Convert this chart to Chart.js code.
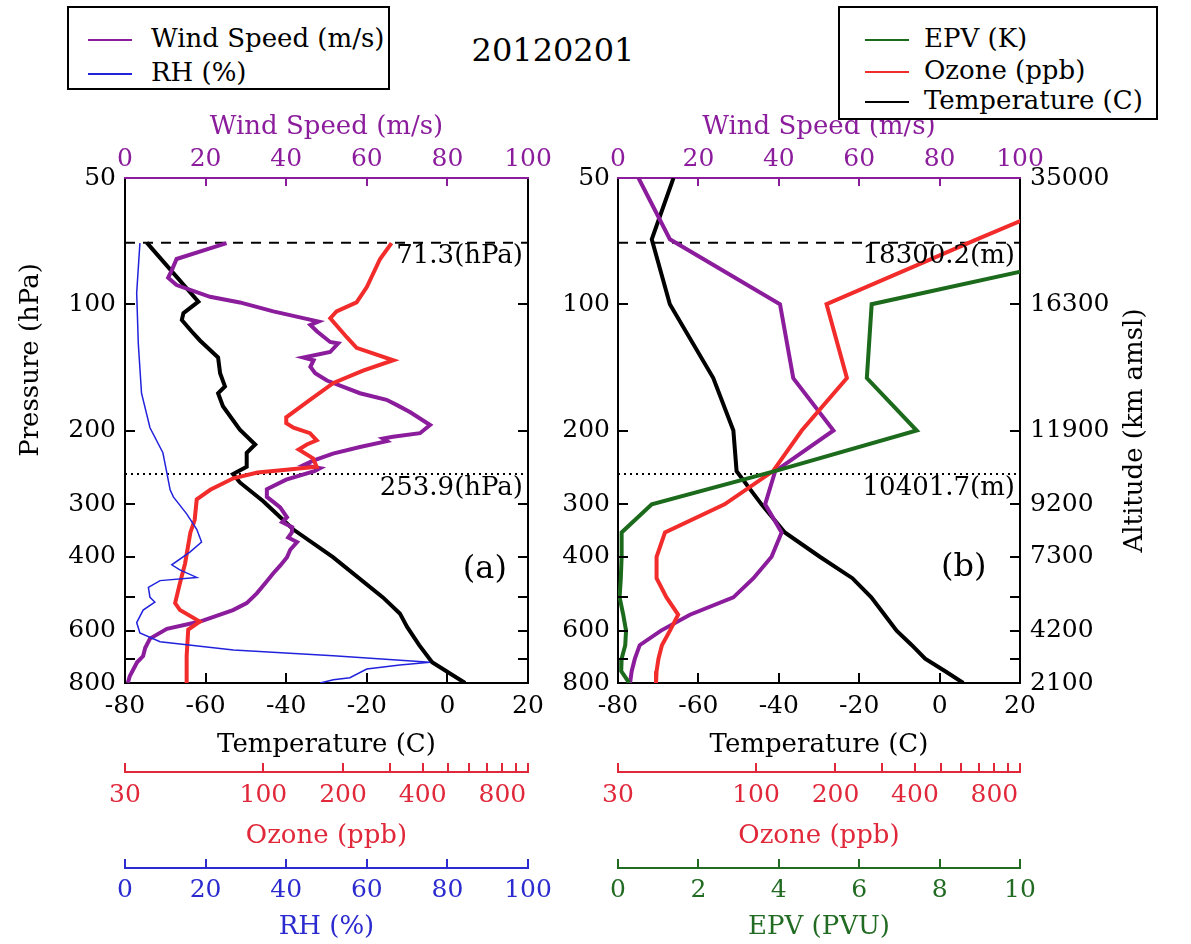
<!DOCTYPE html>
<html>
<head>
<meta charset="utf-8">
<title>20120201</title>
<script src="https://cdn.jsdelivr.net/npm/chart.js@4.4.1/dist/chart.umd.min.js"></script>
<style>
  body { margin: 0; background: #fff; font-family: "DejaVu Serif", serif; }
  #page { position: relative; width: 1191px; height: 944px; overflow: hidden; background: #fff; }
  canvas { position: absolute; }
  #ca { left: 0; top: 110px; }
  #cb { left: 540px; top: 110px; }
  #title { position: absolute; left: 453px; top: 30px; width: 200px; text-align: center; font-size: 32px; line-height: 40px; color: #000; }
  .legend { position: absolute; box-sizing: border-box; border: 2px solid #000; background: #fff; font-size: 26px; color: #000; }
  .legend .row { position: absolute; height: 30px; line-height: 30px; white-space: nowrap; }
  .legend .key { display: inline-block; width: 44px; height: 2px; vertical-align: middle; }
</style>
</head>
<body>
<div id="page">
  <canvas id="ca" width="560" height="834"></canvas>
  <canvas id="cb" width="651" height="834"></canvas>
  <div id="title">20120201</div>
  <div class="legend" style="left:67px; top:6px; width:323px; height:84px;">
    <div class="row" style="left:19px; top:15px;"><span class="key" style="background:#8b1d9c; margin-right:19px;"></span>Wind Speed (m/s)</div>
    <div class="row" style="left:19px; top:49px;"><span class="key" style="background:#2222dd; margin-right:19px;"></span>RH (%)</div>
  </div>
  <div class="legend" style="left:838px; top:6px; width:320px; height:114px;">
    <div class="row" style="left:25px; top:15px;"><span class="key" style="background:#1c6a1c; margin-right:15px;"></span>EPV (K)</div>
    <div class="row" style="left:25px; top:47px;"><span class="key" style="background:#f22b2b; margin-right:15px;"></span>Ozone (ppb)</div>
    <div class="row" style="left:25px; top:77px;"><span class="key" style="background:#000; margin-right:15px;"></span>Temperature (C)</div>
  </div>
</div>
<script>
const FONT = '"DejaVu Serif", serif';
const PURPLE = '#8b1d9c';
const RED = '#f22b2b';
const BLUE = '#2222dd';
const GREEN = '#1c6a1c';
const OZONE_TEXT = '#e0283a';
const RH_TEXT = '#2b2bd0';
const EPV_TEXT = '#226b22';

// axis ticks
const pressureTicks = [50, 100, 200, 300, 400, 500, 600, 700, 800];
const pressureLabels = ['50', '100', '200', '300', '400', '', '600', '', '800'];
const altitudeLabels = ['35000', '16300', '11900', '9200', '7300', '', '4200', '', '2100'];
const ozoneTicks = [30, 100, 200, 300, 400, 500, 600, 700, 800, 900, 1000];
const ozoneLabels = ['30', '100', '200', '', '400', '', '', '', '800', '', ''];

// tropopause levels (hPa) and their heights (m)
const tropoPressure = [71.3, 253.9];
const tropoHeight = [18300.2, 10401.7];

// (a) sonde profiles
const aTempP = [71.3, 98.6, 105, 109, 116, 122, 134, 146, 157, 163, 175, 199, 216, 226, 244, 254, 266, 295, 344, 401, 500, 546, 588, 650, 714, 800];
const aTemp = [-74.6, -61.8, -65.5, -65.9, -63.5, -61.4, -56.9, -56.4, -55.2, -56.9, -55.7, -51.5, -47.7, -49.8, -49.8, -53.2, -51.5, -45.7, -38.3, -28.4, -16.0, -11.8, -10.0, -7.0, -3.8, 4.4];

const aWindP = [71.5, 74, 78, 83, 86.5, 90, 96, 99, 104, 107.5, 110, 112, 116, 123, 124, 130, 134, 136, 141, 146, 152, 163, 169, 174, 181, 194, 203, 207, 209, 212, 219, 227, 236, 242, 246, 250, 262, 276, 288, 296, 305, 322, 331, 340, 350, 360, 369, 385, 401, 420, 438, 460, 489, 516, 536, 571, 594, 627, 660, 690, 714, 770, 800];
const aWind = [25.2, 20.3, 12.8, 11.6, 10.7, 12.8, 21.1, 28.5, 36.8, 43.4, 48.0, 46.0, 47.6, 50.9, 52.9, 50.9, 44.3, 46.8, 46.0, 47.2, 50.1, 58.3, 64.9, 67.5, 70.8, 75.7, 73.2, 66.5, 64.0, 65.0, 58.3, 51.6, 46.7, 44.3, 48.4, 47.0, 40.0, 35.2, 35.2, 36.8, 38.5, 40.2, 39.0, 41.5, 41.4, 40.5, 42.7, 41.0, 40.2, 38.5, 36.8, 35.0, 32.7, 30.2, 26.8, 18.6, 10.4, 6.2, 5.0, 4.5, 3.0, 1.2, 0.7];

const aOzoneP = [71.5, 78, 91, 99, 104, 108, 120, 127, 136, 144, 154, 169, 186, 192, 197, 203, 211, 216, 222, 233, 244, 248, 252, 260, 277, 292, 327, 350, 415, 462, 516, 536, 571, 597, 689, 800];
const aOzone = [305, 276, 246, 225, 189, 179, 207, 225, 310, 238, 184, 150, 122, 122, 130, 150, 159, 146, 136, 154, 159, 122, 95, 77, 63, 56, 55, 53, 50.6, 48.4, 46.4, 48.4, 57.5, 52, 51.3, 51.3];

const aRhP = [71.5, 94, 124, 163, 197, 226, 250, 277, 288, 316, 344, 369, 390, 418, 430, 448, 456, 473, 500, 513, 536, 574, 608, 638, 667, 689, 714, 725, 741, 777, 786, 800];
const aRh = [3.7, 2.9, 3.3, 4.1, 6.2, 9.4, 10.3, 11.2, 12.0, 15.3, 17.8, 19.0, 16.1, 11.6, 13.6, 17.8, 8.7, 5.8, 6.2, 7.4, 4.5, 2.9, 3.7, 8.7, 26.9, 51.7, 75.7, 68.2, 60.0, 55.8, 51.7, 48.4];

// (b) reanalysis profiles on pressure levels
const bLevels = [50, 70, 100, 150, 200, 250, 300, 350, 400, 450, 500, 550, 600, 650, 700, 750, 800];
const bTemp = [-66.2, -71.6, -67.1, -56.3, -51.3, -50.5, -44.3, -38.5, -29.8, -21.7, -17.0, -13.7, -10.7, -6.9, -3.6, 1.4, 5.9];
const bWind = [5.1, 12.9, 40.3, 43.6, 53.6, 39.1, 36.6, 40.7, 38.2, 33.7, 28.7, 17.9, 10.7, 5.4, 4.2, 3.4, 3.0];
const bOzone = [2450, 686, 185, 221, 149, 116, 76, 45.2, 42, 42, 45.8, 50.7, 47.2, 44, 42.7, 42, 41.8];
const bEpv = [20, 13.7, 6.31, 6.19, 7.43, 3.9, 0.84, 0.09, 0.09, 0.07, 0.04, 0.13, 0.2, 0.18, 0.09, 0.08, 0.28];

const tickFont = { family: FONT, size: 25 };
const titleFont = { family: FONT, size: 26 };

const pts = (vals, ps) => vals.map((v, i) => ({ x: v, y: ps[i] }));

function profile(vals, ps, axis, color, width) {
  return { data: pts(vals, ps), xAxisID: axis, yAxisID: 'y', borderColor: color, borderWidth: width, pointRadius: 0, fill: false };
}

function levelLine(p, dash) {
  return { data: [{ x: -80, y: p }, { x: 20, y: p }], xAxisID: 'x', yAxisID: 'y', borderColor: '#000', borderWidth: 2, borderDash: dash, pointRadius: 0 };
}

// tick marks drawn inside the frame / above the extra axis lines
function innerTicks(spec) {
  return {
    id: 'innerTicks',
    afterDraw(chart) {
      const ctx = chart.ctx;
      ctx.save();
      Object.keys(spec).forEach(id => {
        const s = chart.scales[id], o = spec[id];
        ctx.strokeStyle = o.color;
        ctx.lineWidth = 2;
        s.ticks.forEach((t, i) => {
          if (!o.ends && (i === 0 || i === s.ticks.length - 1)) return;
          const p = Math.round(s.getPixelForValue(t.value));
          ctx.beginPath();
          if (s.position === 'top') { ctx.moveTo(p, s.bottom); ctx.lineTo(p, s.bottom + o.len); }
          else if (s.position === 'bottom') { ctx.moveTo(p, s.top); ctx.lineTo(p, s.top - o.len); }
          else if (s.position === 'left') { ctx.moveTo(s.right, p); ctx.lineTo(s.right + o.len, p); }
          else { ctx.moveTo(s.left, p); ctx.lineTo(s.left - o.len, p); }
          ctx.stroke();
        });
      });
      ctx.restore();
    }
  };
}

// level labels, panel tag and rotated side titles
function annotate(cfg) {
  return {
    id: 'annotate',
    afterDatasetsDraw(chart) {
      const { ctx, chartArea, scales } = chart;
      ctx.save();
      ctx.fillStyle = '#000';
      ctx.font = `26px ${FONT}`;
      ctx.textAlign = 'right';
      ctx.textBaseline = 'top';
      cfg.levelText.forEach((txt, i) => {
        ctx.fillText(txt, chartArea.right - 5, scales.y.getPixelForValue(tropoPressure[i]) + 1);
      });
      ctx.font = `32px ${FONT}`;
      ctx.textAlign = 'center';
      ctx.textBaseline = 'middle';
      ctx.fillText(cfg.tag, scales.x.getPixelForValue(cfg.tagAt[0]), scales.y.getPixelForValue(cfg.tagAt[1]));
      ctx.font = `26px ${FONT}`;
      cfg.sideTitles.forEach(t => {
        const y = t.y !== undefined ? t.y : (chartArea.top + chartArea.bottom) / 2;
        ctx.save();
        ctx.translate(t.x, y);
        ctx.rotate(-Math.PI / 2);
        ctx.fillText(t.text, 0, 0);
        ctx.restore();
      });
      ctx.restore();
    }
  };
}

function pressureAxis(position, width, labels, pad) {
  return {
    type: 'logarithmic', position, reverse: true, min: 50, max: 800,
    afterBuildTicks: s => { s.ticks = pressureTicks.map(v => ({ value: v })); },
    afterFit: s => { s.width = width; },
    grid: { display: false, drawTicks: false },
    border: { color: '#000', width: 2 },
    ticks: {
      display: !!labels, autoSkip: false, padding: pad, color: '#000', font: tickFont,
      callback: (v, i) => labels ? labels[i] : ''
    }
  };
}

function horizontalAxes(third) {
  return {
    xw: {
      type: 'linear', position: 'top', min: 0, max: 100,
      afterFit: s => { s.height = 68; },
      grid: { display: false, drawTicks: false },
      border: { color: PURPLE, width: 2 },
      ticks: { stepSize: 20, padding: 4, color: PURPLE, font: tickFont, maxRotation: 0 },
      title: { display: true, text: 'Wind Speed (m/s)', color: PURPLE, font: titleFont, padding: { top: 2, bottom: 0 } }
    },
    x: {
      type: 'linear', position: 'bottom', min: -80, max: 20,
      afterFit: s => { s.height = 89; },
      grid: { display: false, drawTicks: false },
      border: { color: '#000', width: 2 },
      ticks: { stepSize: 20, padding: 8, color: '#000', font: tickFont, maxRotation: 0 },
      title: { display: true, text: 'Temperature (C)', color: '#000', font: titleFont, padding: { top: 0, bottom: 11 } }
    },
    xo3: {
      type: 'logarithmic', position: 'bottom', min: 30, max: 1000,
      afterFit: s => { s.height = 96; },
      afterBuildTicks: s => { s.ticks = ozoneTicks.map(v => ({ value: v })); },
      grid: { display: false, drawTicks: false },
      border: { color: OZONE_TEXT, width: 2 },
      ticks: { autoSkip: false, padding: 8, color: OZONE_TEXT, font: tickFont, maxRotation: 0, callback: (v, i) => ozoneLabels[i] },
      title: { display: true, text: 'Ozone (ppb)', color: OZONE_TEXT, font: titleFont, padding: { top: 0, bottom: 16 } }
    },
    [third.id]: {
      type: 'linear', position: 'bottom', min: 0, max: third.max,
      afterFit: s => { s.height = 76; },
      grid: { display: false, drawTicks: false },
      border: { color: third.color, width: 2 },
      ticks: { stepSize: third.step, padding: 7, color: third.color, font: tickFont, maxRotation: 0 },
      title: { display: true, text: third.title, color: third.color, font: titleFont, padding: { top: 0, bottom: 1 } }
    }
  };
}

const baseOptions = {
  responsive: false,
  animation: false,
  devicePixelRatio: 1,
  indexAxis: 'y',
  layout: { padding: 0 },
  elements: { point: { radius: 0 }, line: { tension: 0 } },
  plugins: { legend: { display: false }, tooltip: { enabled: false } }
};

new Chart(document.getElementById('ca'), {
  type: 'line',
  data: {
    datasets: [
      profile(aRh, aRhP, 'xrh', BLUE, 1.5),
      profile(aOzone, aOzoneP, 'xo3', RED, 4),
      profile(aWind, aWindP, 'xw', PURPLE, 4),
      profile(aTemp, aTempP, 'x', '#000', 4),
      levelLine(tropoPressure[0], [10, 8]),
      levelLine(tropoPressure[1], [2, 4])
    ]
  },
  options: Object.assign({}, baseOptions, {
    scales: Object.assign({
      y: pressureAxis('left', 125, pressureLabels, 9),
      yr: pressureAxis('right', 32, null, 0)
    }, horizontalAxes({ id: 'xrh', max: 100, step: 20, color: RH_TEXT, title: 'RH (%)' }))
  }),
  plugins: [
    innerTicks({
      y: { len: 10, color: '#000' }, yr: { len: 10, color: '#000' },
      x: { len: 10, color: '#000' }, xw: { len: 8, color: PURPLE },
      xo3: { len: 9, color: OZONE_TEXT, ends: true }, xrh: { len: 9, color: RH_TEXT, ends: true }
    }),
    annotate({
      levelText: tropoPressure.map(p => p.toFixed(1) + '(hPa)'),
      tag: '(a)', tagAt: [9.3, 430],
      sideTitles: [{ text: 'Pressure (hPa)', x: 31, y: 250 }]
    })
  ]
});

new Chart(document.getElementById('cb'), {
  type: 'line',
  data: {
    datasets: [
      profile(bEpv, bLevels, 'xepv', GREEN, 4),
      profile(bOzone, bLevels, 'xo3', RED, 4),
      profile(bWind, bLevels, 'xw', PURPLE, 4),
      profile(bTemp, bLevels, 'x', '#000', 4),
      levelLine(tropoPressure[0], [10, 8]),
      levelLine(tropoPressure[1], [2, 4])
    ]
  },
  options: Object.assign({}, baseOptions, {
    scales: Object.assign({
      y: pressureAxis('left', 78, pressureLabels, 8),
      y2: pressureAxis('right', 171, altitudeLabels, 10)
    }, horizontalAxes({ id: 'xepv', max: 10, step: 2, color: EPV_TEXT, title: 'EPV (PVU)' }))
  }),
  plugins: [
    innerTicks({
      y: { len: 10, color: '#000' }, y2: { len: 10, color: '#000' },
      x: { len: 10, color: '#000' }, xw: { len: 8, color: PURPLE },
      xo3: { len: 9, color: OZONE_TEXT, ends: true }, xepv: { len: 9, color: EPV_TEXT, ends: true }
    }),
    annotate({
      levelText: tropoHeight.map(h => h.toFixed(1) + '(m)'),
      tag: '(b)', tagAt: [6.0, 424],
      sideTitles: [{ text: 'Altitude (km amsl)', x: 595 }]
    })
  ]
});
</script>
</body>
</html>
